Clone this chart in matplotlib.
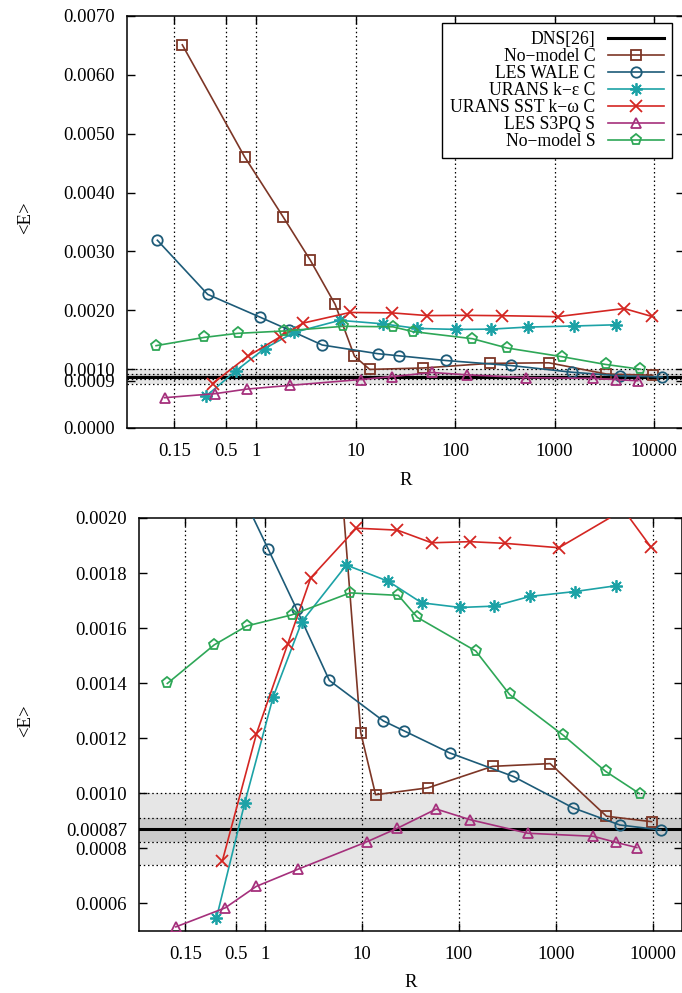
import matplotlib
matplotlib.use('Agg')
import matplotlib.pyplot as plt
from matplotlib.ticker import FixedLocator, FixedFormatter, NullLocator

plt.rcParams['font.family'] = ['Liberation Serif', 'DejaVu Serif']

# datos
DNS = 0.00087
BANDA_EXT = (0.00074, 0.0010)
BANDA_INT = (0.000825, 0.00091)

R_nomod_c = [0.18, 0.76, 1.87, 3.49, 6.2, 9.7, 13.8, 47.9, 222, 873, 3320, 9700]
E_nomod_c = [0.00651, 0.00461, 0.00358, 0.00285, 0.00210, 0.00122, 0.000995,
             0.00102, 0.001098, 0.001108, 0.000917, 0.000897]

R_wale = [0.101, 0.324, 1.08, 2.12, 4.6, 16.6, 27.1, 80, 360, 1508, 4570, 12090]
E_wale = [0.00319, 0.00227, 0.001886, 0.001668, 0.00141, 0.001263, 0.001227,
          0.001147, 0.001062, 0.000947, 0.000885, 0.000867]

R_ke = [0.315, 0.617, 1.21, 2.39, 6.89, 18.7, 41.2, 103, 231, 536, 1580, 4170]
E_ke = [0.000548, 0.000966, 0.00135, 0.001623, 0.001829, 0.00177, 0.001692,
        0.001675, 0.00168, 0.001715, 0.001733, 0.001754]

R_sst = [0.363, 0.815, 1.71, 2.96, 8.74, 23.1, 52.2, 130, 296, 1074, 4990, 9480]
E_sst = [0.000756, 0.001217, 0.001542, 0.001783, 0.001963, 0.001956, 0.00191,
         0.001914, 0.001908, 0.001892, 0.00203, 0.001896]

R_s3pq = [0.12, 0.387, 0.81, 2.17, 11.2, 23.1, 58.3, 131, 514, 2425, 4160, 6840]
E_s3pq = [0.000515, 0.000584, 0.000662, 0.000724, 0.000824, 0.000873, 0.000943,
          0.000904, 0.000855, 0.000844, 0.000822, 0.000803]

R_nomod_s = [0.098, 0.298, 0.647, 1.88, 7.52, 23.7, 37.2, 149, 333, 1190, 3250, 7300]
E_nomod_s = [0.001399, 0.001539, 0.001608, 0.001648, 0.001728, 0.001719, 0.001639,
             0.001517, 0.001359, 0.001211, 0.00108, 0.000999]

XTICKS = [0.15, 0.5, 1, 10, 100, 1000, 10000]
XLABELS = ['0.15', '0.5', '1', '10', '100', '1000', '10000']
YTICKS_A = [0.0, 0.0008, 0.0010, 0.0020, 0.0030, 0.0040, 0.0050, 0.0060, 0.0070]
YLABELS_A = ['0.0000', '0.0009', '0.0010', '0.0020', '0.0030', '0.0040', '0.0050', '0.0060', '0.0070']
YTICKS_B = [0.0006, 0.0008, 0.00087, 0.0010, 0.0012, 0.0014, 0.0016, 0.0018, 0.0020]
YLABELS_B = ['0.0006', '0.0008', '0.00087', '0.0010', '0.0012', '0.0014', '0.0016', '0.0018', '0.0020']

SERIES = [
    ('No\u2212model C', R_nomod_c, E_nomod_c, '#7d3626', 's', 7.0),
    ('LES WALE C', R_wale, E_wale, '#1d5b78', 'o', 7.5),
    ('URANS k\u2212\u03b5 C', R_ke, E_ke, '#1ca2a6', (8, 2, 0), 9.0),
    ('URANS SST k\u2212\u03c9 C', R_sst, E_sst, '#d42622', 'x', 8.0),
    ('LES S3PQ S', R_s3pq, E_s3pq, '#a5307c', '^', 7.5),
    ('No\u2212model S', R_nomod_s, E_nomod_s, '#2ea757', 'p', 8.0),
]

FS = 13.5
W, H = 682, 993
fig = plt.figure(figsize=(W / 100, H / 100), dpi=100)
ax1 = fig.add_axes([127 / W, 1 - 428 / H, 557 / W, 412 / H])
ax2 = fig.add_axes([139 / W, 1 - 931 / H, 543 / W, 413 / H])


def dibujar(ax, ylim, yt, yl):
    ax.set_xscale('log')
    ax.set_xlim(0.05, 20000)
    ax.set_ylim(*ylim)
    ax.axhspan(*BANDA_EXT, color='#e6e6e6', lw=0, zorder=0)
    ax.axhspan(*BANDA_INT, color='#cbcbcb', lw=0, zorder=0)
    for yv in list(BANDA_EXT) + list(BANDA_INT):
        ax.axhline(yv, color='black', lw=0.9, ls=(0, (1.2, 2.2)), zorder=1)
    for xv in XTICKS:
        ax.axvline(xv, color='black', lw=0.9, ls=(0, (1.2, 2.2)), zorder=1)
    ax.axhline(DNS, color='black', lw=2.2, zorder=3, label='DNS[26]')
    for nom, r, e, c, m, ms in SERIES:
        ax.plot(r, e, color=c, lw=1.2, marker=m, ms=ms, mfc='none', mec=c,
                mew=1.3, label=nom, zorder=4)
    ax.xaxis.set_major_locator(FixedLocator(XTICKS))
    ax.xaxis.set_major_formatter(FixedFormatter(XLABELS))
    ax.xaxis.set_minor_locator(NullLocator())
    ax.yaxis.set_major_locator(FixedLocator(yt))
    ax.yaxis.set_major_formatter(FixedFormatter(yl))
    ax.yaxis.set_minor_locator(NullLocator())
    ax.tick_params(direction='in', length=6, width=1.0, top=True, right=True,
                   labelsize=FS, pad=8.5)
    ax.tick_params(axis='x', pad=11)
    for s in ax.spines.values():
        s.set_linewidth(1.1)
    ax.set_xlabel('R', fontsize=FS)
    ax.set_ylabel('<E>', fontsize=FS)


dibujar(ax1, (0.0, 0.0070), YTICKS_A, YLABELS_A)
dibujar(ax2, (0.0005, 0.0020), YTICKS_B, YLABELS_B)

ax1.xaxis.set_label_coords(0.5, -0.108)
ax1.yaxis.set_label_coords(-0.166, 0.51)
ax2.xaxis.set_label_coords(0.5, -0.103)
ax2.yaxis.set_label_coords(-0.193, 0.51)

leg = ax1.legend(loc='upper right', bbox_to_anchor=(0.9785, 0.983),
                 borderaxespad=0, markerfirst=False, fontsize=12.7,
                 handlelength=3.2, handletextpad=0.7, labelspacing=0.0,
                 borderpad=0.45, fancybox=False, framealpha=1,
                 edgecolor='black')
leg.get_frame().set_linewidth(1.0)

plt.savefig('out.png', dpi=100)
plt.close()
